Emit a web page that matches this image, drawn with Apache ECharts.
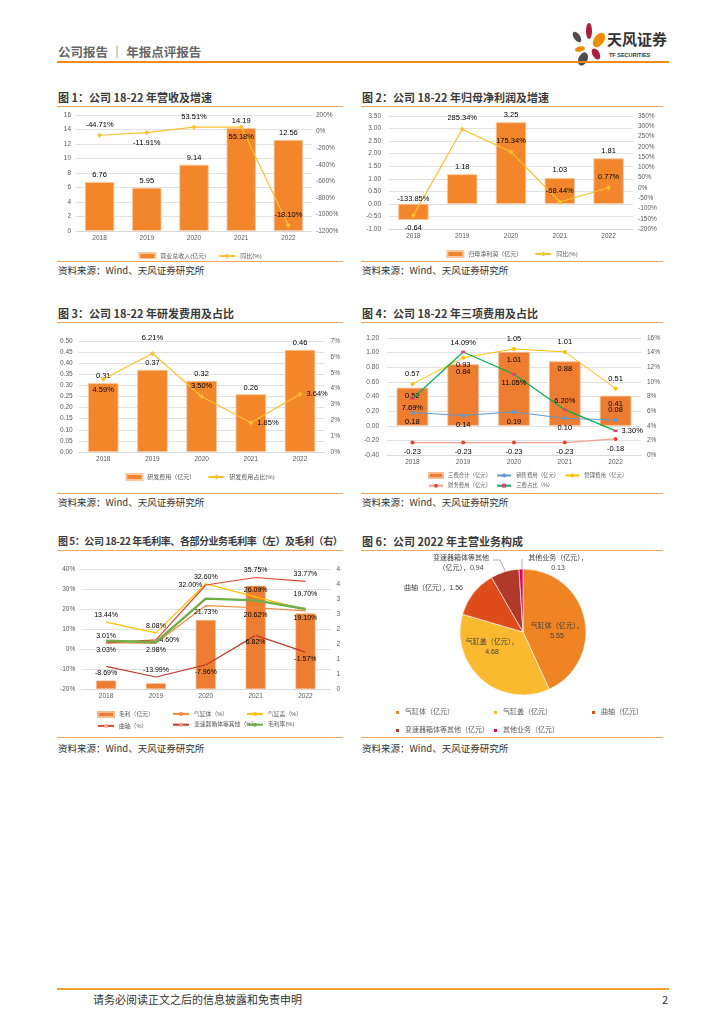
<!DOCTYPE html>
<html><head><meta charset="utf-8">
<script src="https://cdn.jsdelivr.net/npm/echarts@6/dist/echarts.min.js"></script>
<style>
body{margin:0;background:#fff;width:724px;height:1024px;position:relative;overflow:hidden;font-family:"Noto Sans CJK SC","Liberation Sans",sans-serif}
.abs{position:absolute}
.title{position:absolute;font-size:11px;line-height:14px;font-weight:bold;color:#3a3a3a;white-space:nowrap}
.src{position:absolute;font-size:9.5px;line-height:12px;color:#333;white-space:nowrap}
.hl{position:absolute;height:1px;background:#F5A665}
.chart{position:absolute}
</style></head><body>

<div class="abs" style="left:58px;top:44px;font-size:12.5px;line-height:16px;color:#666;font-weight:bold;white-space:nowrap">公司报告 ｜ 年报点评报告</div>
<svg class="abs" style="left:568px;top:22px" width="42" height="44" viewBox="0 0 42 44">
 <ellipse cx="21" cy="9" rx="3" ry="8" fill="#B01C3C"/>
 <ellipse cx="9" cy="15" rx="3.2" ry="6" fill="#4D4D4D" transform="rotate(-35 9 15)"/>
 <ellipse cx="31" cy="18" rx="5" ry="8" fill="#F08C00" transform="rotate(35 31 18)"/>
 <ellipse cx="12" cy="27" rx="5" ry="2.5" fill="#F08C00" transform="rotate(-15 12 27)"/>
 <ellipse cx="28" cy="32" rx="3.5" ry="6" fill="#B01C3C" transform="rotate(-30 28 32)"/>
 <ellipse cx="15" cy="37" rx="4.5" ry="7" fill="#4D4D4D" transform="rotate(25 15 37)"/>
</svg>
<div class="abs" style="left:607px;top:30px;font-size:15px;line-height:18px;font-weight:bold;color:#333;white-space:nowrap">天风证券</div>
<div class="abs" style="left:609px;top:52px;font-size:5.5px;line-height:7px;font-weight:bold;color:#333;white-space:nowrap;font-family:'Liberation Sans'">TF SECURITIES</div>
<div class="abs" style="left:57px;top:61px;width:612px;height:2px;background:#F08C1E"></div>

<div class="title" style="left:58px;top:90px">图 1：公司 18-22 年营收及增速</div>
<div class="hl" style="left:57px;top:106px;width:286px"></div>
<div class="chart" id="c1" style="left:57px;top:107px;width:286px;height:152px"></div>
<div class="hl" style="left:57px;top:261px;width:286px"></div>
<div class="src" style="left:58px;top:264px">资料来源：Wind、天风证券研究所</div>

<div class="title" style="left:362px;top:90px">图 2：公司 18-22 年归母净利润及增速</div>
<div class="hl" style="left:361px;top:106px;width:302px"></div>
<div class="chart" id="c2" style="left:361px;top:107px;width:302px;height:152px"></div>
<div class="hl" style="left:361px;top:261px;width:302px"></div>
<div class="src" style="left:362px;top:264px">资料来源：Wind、天风证券研究所</div>

<div class="title" style="left:58px;top:306px">图 3：公司 18-22 年研发费用及占比</div>
<div class="hl" style="left:57px;top:322px;width:286px"></div>
<div class="chart" id="c3" style="left:57px;top:324px;width:286px;height:168px"></div>
<div class="hl" style="left:57px;top:493px;width:286px"></div>
<div class="src" style="left:58px;top:496px">资料来源：Wind、天风证券研究所</div>

<div class="title" style="left:362px;top:306px">图 4：公司 18-22 年三项费用及占比</div>
<div class="hl" style="left:361px;top:322px;width:302px"></div>
<div class="chart" id="c4" style="left:361px;top:324px;width:302px;height:168px"></div>
<div class="hl" style="left:361px;top:493px;width:302px"></div>
<div class="src" style="left:362px;top:496px">资料来源：Wind、天风证券研究所</div>

<div class="title" style="left:58px;top:534px;font-size:10px;letter-spacing:-0.45px">图 5：公司 18-22 年毛利率、各部分业务毛利率（左）及毛利（右）</div>
<div class="hl" style="left:57px;top:550px;width:286px"></div>
<div class="chart" id="c5" style="left:57px;top:551px;width:286px;height:185px"></div>
<div class="hl" style="left:57px;top:737px;width:286px"></div>
<div class="src" style="left:58px;top:742px">资料来源：Wind、天风证券研究所</div>

<div class="title" style="left:362px;top:534px">图 6：公司 2022 年主营业务构成</div>
<div class="hl" style="left:361px;top:550px;width:302px"></div>
<div class="chart" id="c6" style="left:361px;top:551px;width:302px;height:185px"></div>
<div class="hl" style="left:361px;top:737px;width:302px"></div>
<div class="src" style="left:362px;top:742px">资料来源：Wind、天风证券研究所</div>

<div class="abs" style="left:57px;top:988px;width:612px;height:2px;background:#F0A030"></div>
<div class="abs" style="left:93px;top:992px;font-size:11px;line-height:14px;color:#333;white-space:nowrap">请务必阅读正文之后的信息披露和免责申明</div>
<div class="abs" style="left:662px;top:992px;font-size:11px;line-height:14px;color:#333">2</div>

<script>
// ---------- data ----------
const years = ['2018', '2019', '2020', '2021', '2022'];
// 图1
const revenue = [6.76, 5.95, 9.14, 14.19, 12.56];
const revenueGrowth = [-44.71, -11.91, 53.51, 55.18, -1130];
const revenueGrowthLabels = ['-44.71%', '-11.91%', '53.51%', '55.18%', '-18.10%'];
// 图2
const netProfit = [-0.64, 1.18, 3.25, 1.03, 1.81];
const netProfitGrowth = [-133.85, 285.34, 175.34, -68.44, 0.77];
// 图3
const rdExpense = [0.31, 0.37, 0.32, 0.26, 0.46];
const rdRatio = [4.59, 6.21, 3.50, 1.85, 3.64];
// 图4
const threeFeeTotal = [0.52, 0.84, 1.01, 0.88, 0.41];
const salesExpense = [0.18, 0.14, 0.19, 0.10, 0.08];
const adminExpense = [0.57, 0.93, 1.05, 1.01, 0.51];
const financeExpense = [-0.23, -0.23, -0.23, -0.23, -0.18];
const threeFeeRatio = [7.69, 14.09, 11.05, 6.20, 3.30];
// 图5
const grossProfit = [0.28, 0.19, 2.30, 3.44, 2.52];
const blockMargin = [3.01, 2.98, 21.73, 20.62, 19.10];
const headMargin = [13.44, 8.08, 32.60, 26.09, 19.70];
const crankMargin = [3.03, 4.60, 32.00, 35.75, 33.77];
const gearboxMargin = [-8.69, -13.99, -7.96, 6.82, -1.57];
const grossMargin = [4.10, 3.40, 25.20, 24.30, 20.00];
// 图6
const pieNames = ['气缸体（亿元）', '气缸盖（亿元）', '曲轴（亿元）', '变速器箱体等其他（亿元）', '其他业务（亿元）'];
const pieValues = [5.55, 4.68, 1.56, 0.94, 0.13];

// ---------- helpers ----------
const FONT = '"Liberation Sans","Noto Sans CJK SC",sans-serif';
const AX = {fontSize: 6.5, color: '#595959', fontFamily: FONT};
const LBL = {fontSize: 7.5, color: '#000', fontFamily: FONT};
const GRIDLINE = {lineStyle: {color: '#D9D9D9', width: 0.8}};
function withPos(vals, pos, extra) {
  return vals.map((v, i) => ({value: v, label: Object.assign({position: pos[i]}, extra ? extra[i] : {})}));
}
function catAxis() {
  return {type: 'category', data: years, axisTick: {show: false},
    axisLine: {onZero: false, lineStyle: {color: '#D9D9D9'}}, axisLabel: Object.assign({margin: 4}, AX)};
}
function legendText(s) { return {fontSize: s || 6, color: '#595959', fontFamily: FONT}; }
const ORANGE = '#F3862B', YELLOW = '#FAC12F';
const pctAxis = v => v + '%';

// ---------- chart 1 ----------
echarts.init(document.getElementById('c1')).setOption({
  animation: false, textStyle: {fontFamily: FONT},
  grid: {left: 19, top: 8, width: 236, height: 116},
  legend: {top: 140, left: 'center', itemWidth: 16, itemHeight: 6, itemGap: 12, textStyle: legendText(),
    data: [{name: '营业总收入(亿元)', icon: 'rect'}, {name: '同比(%)'}]},
  xAxis: catAxis(),
  yAxis: [
    {type: 'value', min: 0, max: 16, interval: 2, axisLabel: Object.assign({margin: 5}, AX), splitLine: GRIDLINE},
    {type: 'value', min: -1200, max: 200, interval: 200, position: 'right', splitLine: {show: false},
      axisLabel: Object.assign({margin: 4, formatter: pctAxis}, AX)}
  ],
  series: [
    {type: 'bar', name: '营业总收入(亿元)', data: revenue, barWidth: '62%',
      itemStyle: {color: ORANGE, borderColor: '#F9C8A0', borderWidth: 0.8},
      label: Object.assign({show: true, position: 'top', distance: 3}, LBL)},
    {type: 'line', name: '同比(%)', yAxisIndex: 1, z: 5,
      data: withPos(revenueGrowth, ['top', 'bottom', 'top', 'bottom', 'top']),
      symbol: 'diamond', symbolSize: 5, lineStyle: {color: YELLOW, width: 1.2}, itemStyle: {color: YELLOW},
      label: Object.assign({show: true, distance: 4, formatter: p => revenueGrowthLabels[p.dataIndex]}, LBL)}
  ]
});

// ---------- chart 2 ----------
echarts.init(document.getElementById('c2')).setOption({
  animation: false, textStyle: {fontFamily: FONT},
  grid: {left: 28, top: 9, width: 244, height: 113},
  legend: {top: 138, left: 'center', itemWidth: 16, itemHeight: 6, itemGap: 12, textStyle: legendText(),
    data: [{name: '归母净利润（亿元）', icon: 'rect'}, {name: '同比(%)'}]},
  xAxis: catAxis(),
  yAxis: [
    {type: 'value', min: -1, max: 3.5, interval: 0.5, splitLine: GRIDLINE,
      axisLabel: Object.assign({margin: 8, formatter: v => v.toFixed(2)}, AX)},
    {type: 'value', min: -200, max: 350, interval: 50, position: 'right', splitLine: {show: false},
      axisLabel: Object.assign({margin: 5, formatter: pctAxis}, AX)}
  ],
  series: [
    {type: 'bar', name: '归母净利润（亿元）', barWidth: '62%',
      data: withPos(netProfit, ['bottom', 'top', 'top', 'top', 'top']),
      itemStyle: {color: ORANGE, borderColor: '#F9C8A0', borderWidth: 0.8},
      label: Object.assign({show: true, distance: 4}, LBL)},
    {type: 'line', name: '同比(%)', yAxisIndex: 1, z: 5,
      data: withPos(netProfitGrowth, ['top', 'top', 'top', 'top', 'top'], [{distance: 10}, {}, {}, {}, {}]),
      symbol: 'diamond', symbolSize: 5, lineStyle: {color: YELLOW, width: 1.2}, itemStyle: {color: YELLOW},
      label: Object.assign({show: true, distance: 5, formatter: p => p.value.toFixed(2) + '%'}, LBL)}
  ]
});

// ---------- chart 3 ----------
echarts.init(document.getElementById('c3')).setOption({
  animation: false, textStyle: {fontFamily: FONT},
  grid: {left: 21, top: 17, width: 249, height: 111},
  legend: {top: 144, left: 'center', itemWidth: 16, itemHeight: 6, itemGap: 12, textStyle: legendText(),
    data: [{name: '研发费用（亿元）', icon: 'rect'}, {name: '研发费用占比(%)'}]},
  xAxis: catAxis(),
  yAxis: [
    {type: 'value', min: 0, max: 0.5, interval: 0.05, splitLine: GRIDLINE,
      axisLabel: Object.assign({margin: 6, formatter: v => v.toFixed(2)}, AX)},
    {type: 'value', min: 0, max: 7, interval: 1, position: 'right', splitLine: {show: false},
      axisLabel: Object.assign({margin: 6, formatter: pctAxis}, AX)}
  ],
  series: [
    {type: 'bar', name: '研发费用（亿元）', data: rdExpense, barWidth: '62%',
      itemStyle: {color: ORANGE, borderColor: '#F9C8A0', borderWidth: 0.8},
      label: Object.assign({show: true, position: 'top', distance: 3, formatter: p => p.value.toFixed(2)}, LBL)},
    {type: 'line', name: '研发费用占比(%)', yAxisIndex: 1, z: 5,
      data: withPos(rdRatio, ['bottom', 'top', 'top', 'right', 'right'], [{}, {distance: 9}, {}, {}, {}]),
      symbol: 'diamond', symbolSize: 5, lineStyle: {color: YELLOW, width: 1.2}, itemStyle: {color: YELLOW},
      label: Object.assign({show: true, distance: 4, formatter: p => p.value.toFixed(2) + '%'}, LBL)}
  ]
});

// ---------- chart 4 ----------
const pct = p => p.value.toFixed(2) + '%';
const dec = p => p.value.toFixed(2);
echarts.init(document.getElementById('c4')).setOption({
  animation: false, textStyle: {fontFamily: FONT},
  grid: {left: 26, top: 14, width: 255, height: 117},
  legend: [
    {top: 143, left: 62, itemWidth: 14, itemHeight: 5, itemGap: 5, textStyle: legendText(5.4),
      data: [{name: '三费合计（亿元）', icon: 'rect'}, {name: '销售费用（亿元）'}, {name: '管理费用（亿元）'}]},
    {top: 154, left: 62, itemWidth: 14, itemHeight: 5, itemGap: 5, textStyle: legendText(5.4),
      data: [{name: '财务费用（亿元）'}, {name: '三费占比（%）'}]}
  ],
  xAxis: catAxis(),
  yAxis: [
    {type: 'value', min: -0.4, max: 1.2, interval: 0.2, splitLine: GRIDLINE,
      axisLabel: Object.assign({margin: 8, formatter: v => v.toFixed(2)}, AX)},
    {type: 'value', min: 0, max: 16, interval: 2, position: 'right', splitLine: {show: false},
      axisLabel: Object.assign({margin: 6, formatter: pctAxis}, AX)}
  ],
  series: [
    {type: 'bar', name: '三费合计（亿元）', data: threeFeeTotal, barWidth: '62%',
      itemStyle: {color: '#ED7D31', borderColor: '#F6B98E', borderWidth: 0.8},
      label: Object.assign({show: true, position: 'insideTop', distance: 4, formatter: dec}, LBL)},
    {type: 'line', name: '销售费用（亿元）', z: 5,
      data: withPos(salesExpense, ['bottom', 'bottom', 'bottom', 'bottom', 'top']),
      symbol: 'circle', symbolSize: 4, lineStyle: {color: '#5B9BD5', width: 1}, itemStyle: {color: '#5B9BD5'},
      label: Object.assign({show: true, distance: 4, formatter: dec}, LBL)},
    {type: 'line', name: '管理费用（亿元）', z: 5,
      data: withPos(adminExpense, ['top', 'bottom', 'top', 'top', 'top'], [{}, {distance: 1}, {}, {}, {}]),
      symbol: 'circle', symbolSize: 4, lineStyle: {color: '#FFC000', width: 1}, itemStyle: {color: '#FFC000'},
      label: Object.assign({show: true, distance: 4, formatter: dec}, LBL)},
    {type: 'line', name: '财务费用（亿元）', z: 5,
      data: withPos(financeExpense, ['bottom', 'bottom', 'bottom', 'bottom', 'bottom']),
      symbol: 'circle', symbolSize: 4, lineStyle: {color: '#F4A090', width: 1.2}, itemStyle: {color: '#E8452C'},
      label: Object.assign({show: true, distance: 4, formatter: dec}, LBL)},
    {type: 'line', name: '三费占比（%）', yAxisIndex: 1, z: 6,
      data: withPos(threeFeeRatio, ['bottom', 'top', 'bottom', 'top', 'right']),
      symbol: 'rect', symbolSize: [4, 2.5], lineStyle: {color: '#00B050', width: 1.2}, itemStyle: {color: '#E0407A'},
      label: Object.assign({show: true, distance: 4, formatter: pct}, LBL)}
  ]
});

// ---------- chart 5 ----------
const lg5 = (left, names) => ({top: 155, left: left, orient: 'vertical', height: 40, itemWidth: 16, itemHeight: 5, itemGap: 5,
  textStyle: legendText(5.8), data: names});
const lineLbl = Object.assign({show: true, distance: 3, formatter: p => p.value.toFixed(2) + '%'}, LBL, {fontSize: 7});
echarts.init(document.getElementById('c5')).setOption({
  animation: false, textStyle: {fontFamily: FONT},
  grid: {left: 21, top: 18, width: 255, height: 120},
  legend: [
    lg5(35, [{name: '毛利（亿元）', icon: 'rect'}, {name: '曲轴（%）'}]),
    lg5(110, [{name: '气缸体（%）'}, {name: '变速器箱体等其他（%）'}]),
    lg5(184, [{name: '气缸盖（%）'}, {name: '毛利率(%)'}])
  ],
  xAxis: catAxis(),
  yAxis: [
    {type: 'value', min: -20, max: 40, interval: 10, splitLine: GRIDLINE,
      axisLabel: Object.assign({margin: 6, formatter: pctAxis}, AX)},
    {type: 'value', min: 0, max: 4, interval: 0.5, position: 'right', splitLine: {show: false},
      axisLabel: Object.assign({margin: 6, formatter: v => String(Math.round(v))}, AX)}
  ],
  series: [
    {type: 'bar', name: '毛利（亿元）', yAxisIndex: 1, data: grossProfit, barWidth: '40%',
      itemStyle: {color: '#ED7D31', borderColor: '#F6B98E', borderWidth: 0.6}},
    {type: 'line', name: '气缸体（%）', data: withPos(blockMargin, ['top', 'bottom', 'bottom', 'bottom', 'bottom']),
      symbol: 'circle', symbolSize: 1, lineStyle: {color: '#F08A3C', width: 1.2}, itemStyle: {color: '#F08A3C'},
      label: lineLbl, z: 4},
    {type: 'line', name: '气缸盖（%）', data: withPos(headMargin, ['top', 'top', 'top', 'top', 'top'], [{}, {}, {}, {}, {distance: 12}]),
      symbol: 'circle', symbolSize: 1, lineStyle: {color: '#FFC000', width: 1.2}, itemStyle: {color: '#FFC000'},
      label: lineLbl, z: 4},
    {type: 'line', name: '曲轴（%）', data: withPos(crankMargin, ['bottom', 'right', 'left', 'top', 'top']),
      symbol: 'circle', symbolSize: 1, lineStyle: {color: '#E2452F', width: 1.2}, itemStyle: {color: '#F4A58E'},
      label: lineLbl, z: 4},
    {type: 'line', name: '变速器箱体等其他（%）', data: withPos(gearboxMargin, ['bottom', 'top', 'bottom', 'bottom', 'bottom']),
      symbol: 'circle', symbolSize: 1, lineStyle: {color: '#C0392B', width: 1.2}, itemStyle: {color: '#E9968A'},
      label: lineLbl, z: 4},
    {type: 'line', name: '毛利率(%)', data: grossMargin, symbol: 'circle', symbolSize: 1,
      lineStyle: {color: '#70AD47', width: 2.4}, itemStyle: {color: '#70AD47'}, z: 5}
  ]
});

// ---------- chart 6 ----------
const pieColors = ['#F08423', '#FBB930', '#E04B1C', '#B0392A', '#E5005A'];
const pieFormats = ['{b}，\n{c}', '{b}，\n{c}', '{b}，{c}', '变速器箱体等其他\n（亿元），{c}', '{b}，\n{c}'];
const pieLabelLayout = [
  {x: 196, y: 80, align: 'center'},
  {x: 131, y: 96, align: 'center'},
  {x: 102, y: 37, align: 'right'},
  {x: 100, y: 12, align: 'center', labelLinePoints: [[145, 22], [139, 9], [132, 9]]},
  {x: 197, y: 12, align: 'center', labelLinePoints: [[161, 18], [161, 8]]}
];
const lg6 = (left, names) => ({top: 153, left: left, orient: 'vertical', height: 60, itemWidth: 5, itemHeight: 5, itemGap: 11,
  icon: 'rect', textStyle: legendText(7), data: names});
echarts.init(document.getElementById('c6')).setOption({
  animation: false, textStyle: {fontFamily: FONT},
  legend: [
    lg6(28, [pieNames[0], pieNames[3]]),
    lg6(126, [pieNames[1], pieNames[4]]),
    lg6(224, [pieNames[2]])
  ],
  series: [{
    type: 'pie', center: [162, 81], radius: 63, startAngle: 90, clockwise: true,
    itemStyle: {borderColor: '#fff', borderWidth: 0.6},
    data: pieNames.map((n, i) => ({name: n, value: pieValues[i], itemStyle: {color: pieColors[i]},
      label: {formatter: pieFormats[i]}, labelLine: {show: i >= 3}})),
    label: {show: true, position: 'outside', overflow: 'none', fontSize: 7, color: '#404040', lineHeight: 10, fontFamily: FONT},
    labelLine: {lineStyle: {color: '#999', width: 0.8}},
    labelLayout: p => Object.assign({verticalAlign: 'middle'}, pieLabelLayout[p.dataIndex])
  }]
});
</script>
</body></html>
